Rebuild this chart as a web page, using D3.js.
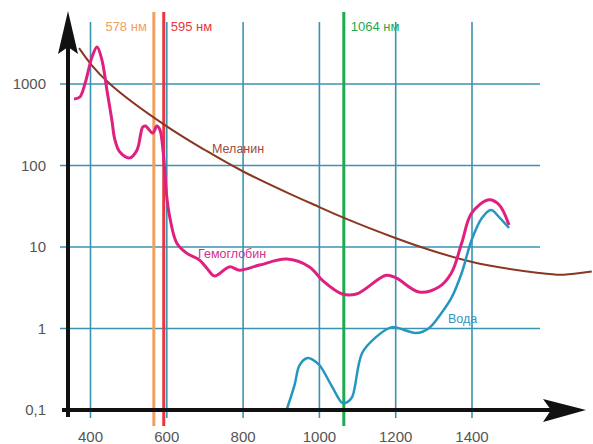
<!DOCTYPE html>
<html lang="ru">
<head>
<meta charset="utf-8">
<title>Спектры поглощения</title>
<script src="https://d3js.org/d3.v7.min.js"></script>
<style>
  body { margin: 0; background: #fff; }
  svg { display: block; font-family: "Liberation Sans", Arial, sans-serif; }
</style>
</head>
<body>
<script>
// wavelength (nm) and absorption values
var xTicks = [400, 600, 800, 1000, 1200, 1400];
var yTicks = [0.1, 1, 10, 100, 1000];
var yTickLabels = ["0,1", "1", "10", "100", "1000"];

var melaninNm  = [370, 451, 597, 700, 799, 921, 1000, 1063, 1199, 1398, 1576, 1641, 1714];
var melaninVal = [2754, 1000, 309, 155, 85, 45.2, 30.9, 22.9, 12.9, 6.6, 4.8, 4.57, 5.0];

var hbNm  = [357, 372, 386, 404, 417, 430, 443, 456, 464, 477, 503, 522, 537, 544, 563, 574, 582, 590, 600, 608, 626, 652, 686, 705, 725, 764, 791, 843, 914, 974, 1008, 1060, 1097, 1175, 1201, 1261, 1312, 1346, 1373, 1399, 1444, 1471, 1497];
var hbVal = [655, 692, 1028, 2145, 2844, 1968, 844, 361, 206, 146, 124, 155, 297, 305, 250, 305, 273, 155, 41, 23, 11.2, 8.4, 6.9, 5.5, 4.4, 5.7, 5.2, 6.0, 7.1, 5.7, 3.9, 2.65, 2.65, 4.5, 4.17, 2.8, 3.2, 4.8, 11.2, 26, 38, 33, 18.6];

var waterNm  = [914, 935, 948, 969, 984, 1000, 1034, 1060, 1073, 1086, 1112, 1149, 1190, 1222, 1253, 1287, 1320, 1346, 1373, 1399, 1426, 1450, 1471, 1497];
var waterVal = [0.1, 0.203, 0.356, 0.434, 0.41, 0.356, 0.191, 0.122, 0.125, 0.145, 0.5, 0.79, 1.04, 0.96, 0.88, 1.01, 1.55, 2.37, 4.8, 12.2, 22.7, 28.4, 23.3, 17.1];

// laser lines: drawn position and label
var laserNm     = [566, 592, 1064];
var laserLabels = ["578 нм", "595 нм", "1064 нм"];
var laserColors = ["#f0a15e", "#e8373c", "#1faa52"];

var w = 593, h = 444;

var x = d3.scaleLinear().domain([400, 1400]).range([90.5, 472]);
var y = d3.scaleLog().domain([0.1, 1000]).range([410, 84]);

var svg = d3.select("body").append("svg")
  .attr("width", w)
  .attr("height", h);

var gridColor = "#3b93b3";

// vertical grid
svg.selectAll("line.vgrid")
  .data(xTicks)
  .enter().append("line")
  .attr("class", "vgrid")
  .attr("x1", function (d) { return x(d); })
  .attr("x2", function (d) { return x(d); })
  .attr("y1", 22)
  .attr("y2", 418)
  .attr("stroke", gridColor)
  .attr("stroke-width", 1.6);

// horizontal grid (skip 0,1 which is the axis)
svg.selectAll("line.hgrid")
  .data(yTicks.slice(1))
  .enter().append("line")
  .attr("class", "hgrid")
  .attr("x1", 60)
  .attr("x2", 540)
  .attr("y1", function (d) { return y(d); })
  .attr("y2", function (d) { return y(d); })
  .attr("stroke", gridColor)
  .attr("stroke-width", 1.6);

// laser lines
svg.selectAll("line.laser")
  .data(laserNm)
  .enter().append("line")
  .attr("class", "laser")
  .attr("x1", function (d) { return x(d); })
  .attr("x2", function (d) { return x(d); })
  .attr("y1", 12)
  .attr("y2", 426)
  .attr("stroke", function (d, i) { return laserColors[i]; })
  .attr("stroke-width", 3);

svg.selectAll("text.laser")
  .data(laserNm)
  .enter().append("text")
  .attr("class", "laser")
  .attr("x", function (d, i) { return i == 0 ? x(d) - 7 : x(d) + 7; })
  .attr("y", 31)
  .attr("text-anchor", function (d, i) { return i == 0 ? "end" : "start"; })
  .attr("font-size", 13)
  .attr("fill", function (d, i) { return laserColors[i]; })
  .text(function (d, i) { return laserLabels[i]; });

// curves
var line = d3.line()
  .x(function (d) { return x(d[0]); })
  .y(function (d) { return y(d[1]); })
  .curve(d3.curveCatmullRom.alpha(0.5));

var smoothLine = d3.line()
  .x(function (d) { return x(d[0]); })
  .y(function (d) { return y(d[1]); })
  .curve(d3.curveNatural);

function pairs(a, b) { return a.map(function (v, i) { return [v, b[i]]; }); }

svg.append("path")
  .attr("d", smoothLine(pairs(melaninNm, melaninVal)))
  .attr("fill", "none")
  .attr("stroke", "#8b3620")
  .attr("stroke-width", 2);

svg.append("path")
  .attr("d", line(pairs(waterNm, waterVal)))
  .attr("fill", "none")
  .attr("stroke", "#2596c0")
  .attr("stroke-width", 2.5);

svg.append("path")
  .attr("d", line(pairs(hbNm, hbVal)))
  .attr("fill", "none")
  .attr("stroke", "#e0207f")
  .attr("stroke-width", 3);

// curve labels
svg.append("text").attr("x", 212).attr("y", 153)
  .attr("font-size", 12.5).attr("fill", "#9b4a3a").text("Меланин");
svg.append("text").attr("x", 198).attr("y", 258)
  .attr("font-size", 12.5).attr("fill", "#d2308a").text("Гемоглобин");
svg.append("text").attr("x", 448).attr("y", 323)
  .attr("font-size", 12.5).attr("fill", "#2f98c2").text("Вода");

// axes
svg.append("line")
  .attr("x1", 68).attr("x2", 68)
  .attr("y1", 417).attr("y2", 40)
  .attr("stroke", "#111").attr("stroke-width", 4);
svg.append("path")
  .attr("d", "M68,11 L78,54 L68,47 L58,54 Z")
  .attr("fill", "#111");

svg.append("line")
  .attr("x1", 62).attr("x2", 560)
  .attr("y1", y(0.1)).attr("y2", y(0.1))
  .attr("stroke", "#111").attr("stroke-width", 4);
svg.append("path")
  .attr("d", "M586,410 L543,399 L551,410 L543,422 Z")
  .attr("fill", "#111");

// tick labels
svg.selectAll("text.ylab")
  .data(yTicks)
  .enter().append("text")
  .attr("class", "ylab")
  .attr("x", 46)
  .attr("y", function (d) { return y(d) + 5; })
  .attr("text-anchor", "end")
  .attr("font-size", 15)
  .attr("fill", "#555")
  .text(function (d, i) { return yTickLabels[i]; });

svg.selectAll("text.xlab")
  .data(xTicks)
  .enter().append("text")
  .attr("class", "xlab")
  .attr("x", function (d) { return x(d); })
  .attr("y", 442)
  .attr("text-anchor", "middle")
  .attr("font-size", 15)
  .attr("fill", "#555")
  .text(function (d) { return d; });
</script>
</body>
</html>
